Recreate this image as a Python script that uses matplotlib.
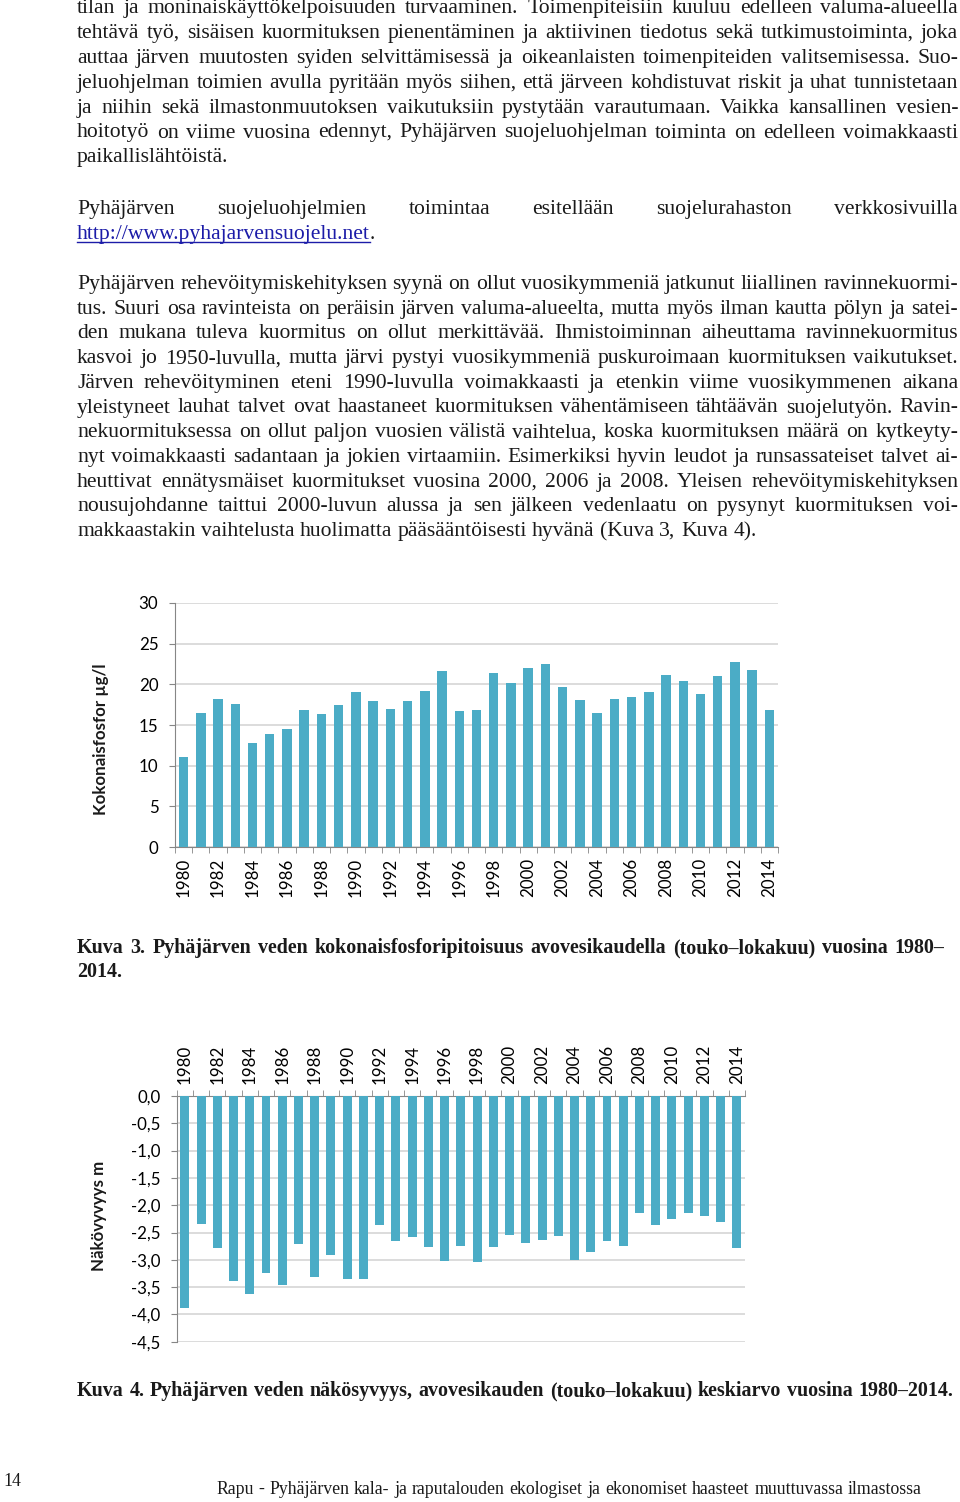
import matplotlib
matplotlib.use('Agg')
import matplotlib.pyplot as plt
from matplotlib.transforms import IdentityTransform
from matplotlib.lines import Line2D
import numpy as np

# ---------------- data ----------------
years = list(range(1980, 2015))
phosphorus = [11.1, 16.5, 18.2, 17.6, 12.8, 13.9, 14.5, 16.9, 16.3, 17.4,
              19.1, 18.0, 17.0, 18.0, 19.2, 21.6, 16.7, 16.9, 21.4, 20.2,
              22.0, 22.5, 19.7, 18.1, 16.5, 18.2, 18.4, 19.0, 21.1, 20.4,
              18.8, 21.0, 22.8, 21.8, 16.9]
secchi = [-3.88, -2.35, -2.79, -3.38, -3.62, -3.24, -3.46, -2.71, -3.32, -2.91,
          -3.36, -3.35, -2.37, -2.66, -2.59, -2.77, -3.03, -2.74, -3.04, -2.77,
          -2.55, -2.69, -2.64, -2.56, -3.00, -2.86, -2.66, -2.74, -2.14, -2.37,
          -2.26, -2.14, -2.19, -2.30, -2.79]
phos_ticks = [0, 5, 10, 15, 20, 25, 30]
secchi_ticks = [0.0, -0.5, -1.0, -1.5, -2.0, -2.5, -3.0, -3.5, -4.0, -4.5]
ylabel1 = "Kokonaisfosfor µg/l"
ylabel2 = "Näkövyvyys m"

para1 = [
    "tilan ja moninaiskäyttökelpoisuuden turvaaminen. Toimenpiteisiin kuuluu edelleen valuma-alueella",
    "tehtävä työ, sisäisen kuormituksen pienentäminen ja aktiivinen tiedotus sekä tutkimustoiminta, joka",
    "auttaa järven muutosten syiden selvittämisessä ja oikeanlaisten toimenpiteiden valitsemisessa. Suo-",
    "jeluohjelman toimien avulla pyritään myös siihen, että järveen kohdistuvat riskit ja uhat tunnistetaan",
    "ja niihin sekä ilmastonmuutoksen vaikutuksiin pystytään varautumaan. Vaikka kansallinen vesien-",
    "hoitotyö on viime vuosina edennyt, Pyhäjärven suojeluohjelman toiminta on edelleen voimakkaasti",
    "paikallislähtöistä.",
]
para2_line1 = "Pyhäjärven suojeluohjelmien toimintaa esitellään suojelurahaston verkkosivuilla"
link_text = "http://www.pyhajarvensuojelu.net"
para3 = [
    "Pyhäjärven rehevöitymiskehityksen syynä on ollut vuosikymmeniä jatkunut liiallinen ravinnekuormi-",
    "tus. Suuri osa ravinteista on peräisin järven valuma-alueelta, mutta myös ilman kautta pölyn ja satei-",
    "den mukana tuleva kuormitus on ollut merkittävää. Ihmistoiminnan aiheuttama ravinnekuormitus",
    "kasvoi jo 1950-luvulla, mutta järvi pystyi vuosikymmeniä puskuroimaan kuormituksen vaikutukset.",
    "Järven rehevöityminen eteni 1990-luvulla voimakkaasti ja etenkin viime vuosikymmenen aikana",
    "yleistyneet lauhat talvet ovat haastaneet kuormituksen vähentämiseen tähtäävän suojelutyön. Ravin-",
    "nekuormituksessa on ollut paljon vuosien välistä vaihtelua, koska kuormituksen määrä on kytkeyty-",
    "nyt voimakkaasti sadantaan ja jokien virtaamiin. Esimerkiksi hyvin leudot ja runsassateiset talvet ai-",
    "heuttivat ennätysmäiset kuormitukset vuosina 2000, 2006 ja 2008. Yleisen rehevöitymiskehityksen",
    "nousujohdanne taittui 2000-luvun alussa ja sen jälkeen vedenlaatu on pysynyt kuormituksen voi-",
    "makkaastakin vaihtelusta huolimatta pääsääntöisesti hyvänä (Kuva 3, Kuva 4).",
]
caption3 = ["Kuva 3. Pyhäjärven veden kokonaisfosforipitoisuus avovesikaudella (touko–lokakuu) vuosina 1980–",
            "2014."]
caption4 = "Kuva 4. Pyhäjärven veden näkösyvyys, avovesikauden (touko–lokakuu) keskiarvo vuosina 1980–2014."
footer = "Rapu - Pyhäjärven kala- ja raputalouden ekologiset ja ekonomiset haasteet muuttuvassa ilmastossa"
page_no = "14"

# ---------------- figure ----------------
W, H = 960, 1502
fig = plt.figure(figsize=(W / 100, H / 100), dpi=100)
fig.patch.set_facecolor('white')
ident = IdentityTransform()
rend = fig.canvas.get_renderer()
SERIF = ['Liberation Serif', 'DejaVu Serif']
TXT = '#1a1a1a'
LINK = '#1c1ca8'


def Y(y):
    return H - y


def measure(s, size, weight='normal'):
    t = fig.text(0, 0, s, fontsize=size, family=SERIF, weight=weight, transform=ident)
    w = t.get_window_extent(renderer=rend).width
    t.remove()
    return w


def space_w(size, weight='normal'):
    return measure('x x', size, weight) - measure('xx', size, weight)


def natural(line, size, weight='normal'):
    words = line.split()
    return sum(measure(w, size, weight) for w in words) + space_w(size, weight) * (len(words) - 1)


def draw_line(line, y, size, x0, x1=None, weight='normal', color=TXT):
    words = line.split()
    texts = [fig.text(0, Y(y), w, fontsize=size, family=SERIF, weight=weight, color=color,
                      transform=ident, ha='left', va='baseline') for w in words]
    widths = [t.get_window_extent(renderer=rend).width for t in texts]
    if x1 is not None and len(words) > 1:
        gap = (x1 - x0 - sum(widths)) / (len(words) - 1)
    else:
        gap = space_w(size, weight)
    x = x0
    for t, w in zip(texts, widths):
        t.set_x(x)
        x += w + gap
    return x - gap


X0, X1 = 77, 958
s0 = 12.0
justified = para1[:-1] + para3[:-1]
maxw = max(natural(l, s0) for l in justified)
BODY = s0 * (X1 - X0) / maxw

for i, line in enumerate(para1):
    y = 13 + 24.9 * i
    draw_line(line, y, BODY, X0, X1 if i < len(para1) - 1 else None)

draw_line(para2_line1, 214, BODY, X0, X1)
lt = fig.text(X0, Y(239), link_text, fontsize=BODY, family=SERIF, color=LINK,
              transform=ident, ha='left', va='baseline')
lw = lt.get_window_extent(renderer=rend).width
fig.add_artist(Line2D([X0, X0 + lw], [Y(241.5), Y(241.5)], transform=ident, color=LINK, lw=1))
fig.text(X0 + lw, Y(239), ".", fontsize=BODY, family=SERIF, color=TXT,
         transform=ident, ha='left', va='baseline')

for i, line in enumerate(para3):
    y = 289 + 24.7 * i
    draw_line(line, y, BODY, X0, X1 if i < len(para3) - 1 else None)

# captions
CAP = s0 * (953 - 77) / natural(caption4, s0, 'bold') * 0.99
draw_line(caption3[0], 953, CAP, 77, 944, weight='bold')
draw_line(caption3[1], 977, CAP, 77, None, weight='bold')
draw_line(caption4, 1396, CAP, 77, 953, weight='bold')

# footer
FOOT = s0 * (922 - 216) / natural(footer, s0) * 0.99
draw_line(footer, 1494, FOOT, 216, 922)
fig.text(3, Y(1486), page_no, fontsize=FOOT, family=SERIF, color=TXT,
         transform=ident, ha='left', va='baseline')

# ---------------- charts ----------------
BAR = '#4BACC6'
GRID = '#d9d9d9'
AXC = '#868686'
CF = 'Lato'
FS = 12.2
xpos = np.arange(len(years))

# Chart 1
ax1 = fig.add_axes([175 / W, 1 - 847 / H, 603 / W, 244 / H])
ax1.bar(xpos, phosphorus, width=0.55, color=BAR, zorder=3)
ax1.set_xlim(-0.5, len(years) - 0.5)
ax1.set_ylim(0, 30)
ax1.set_yticks(phos_ticks)
ax1.set_yticklabels([str(v) for v in phos_ticks], family=CF, fontsize=FS)
ax1.yaxis.grid(True, color=GRID, lw=1.3)
ax1.set_axisbelow(True)
for s in ['top', 'right']:
    ax1.spines[s].set_visible(False)
for s in ['left', 'bottom']:
    ax1.spines[s].set_color(AXC)
ax1.set_xticks(xpos[::2])
ax1.set_xticklabels([str(y) for y in years[::2]], rotation=90, family=CF, fontsize=FS)
ax1.set_xticks(np.arange(-0.5, len(years)), minor=True)
ax1.tick_params(axis='x', which='major', length=0, pad=8)
ax1.tick_params(axis='x', which='minor', length=4, color=AXC)
ax1.tick_params(axis='y', length=4, color=AXC, pad=8)
fig.text(101, Y(739), ylabel1, rotation=90, ha='center', va='center', family=CF,
         weight='bold', fontsize=FS, transform=ident, color=TXT)

# Chart 2
ax2 = fig.add_axes([176.7 / W, 1 - 1341.7 / H, 568.3 / W, 245.7 / H])
ax2.bar(xpos, secchi, width=0.55, color=BAR, zorder=3)
ax2.set_xlim(-0.5, len(years) - 0.5)
ax2.set_ylim(-4.5, 0)
ax2.set_yticks(secchi_ticks)
ax2.set_yticklabels([f"{v:.1f}".replace('.', ',') for v in secchi_ticks], family=CF, fontsize=FS)
ax2.yaxis.grid(True, color=GRID, lw=1.3)
ax2.set_axisbelow(True)
for s in ['bottom', 'right']:
    ax2.spines[s].set_visible(False)
for s in ['left', 'top']:
    ax2.spines[s].set_color(AXC)
ax2.xaxis.tick_top()
ax2.set_xticks(xpos[::2])
ax2.set_xticklabels([str(y) for y in years[::2]], rotation=90, family=CF, fontsize=FS)
ax2.set_xticks(np.arange(-0.5, len(years)), minor=True)
ax2.tick_params(axis='x', which='major', length=0, pad=9)
ax2.tick_params(axis='x', which='minor', length=4, color=AXC, top=True, bottom=False)
ax2.tick_params(axis='y', length=4, color=AXC, pad=7.5)
fig.text(99, Y(1216), ylabel2, rotation=90, ha='center', va='center', family=CF,
         weight='bold', fontsize=FS, transform=ident, color=TXT)

fig.savefig('out.png', dpi=100, facecolor='white')
